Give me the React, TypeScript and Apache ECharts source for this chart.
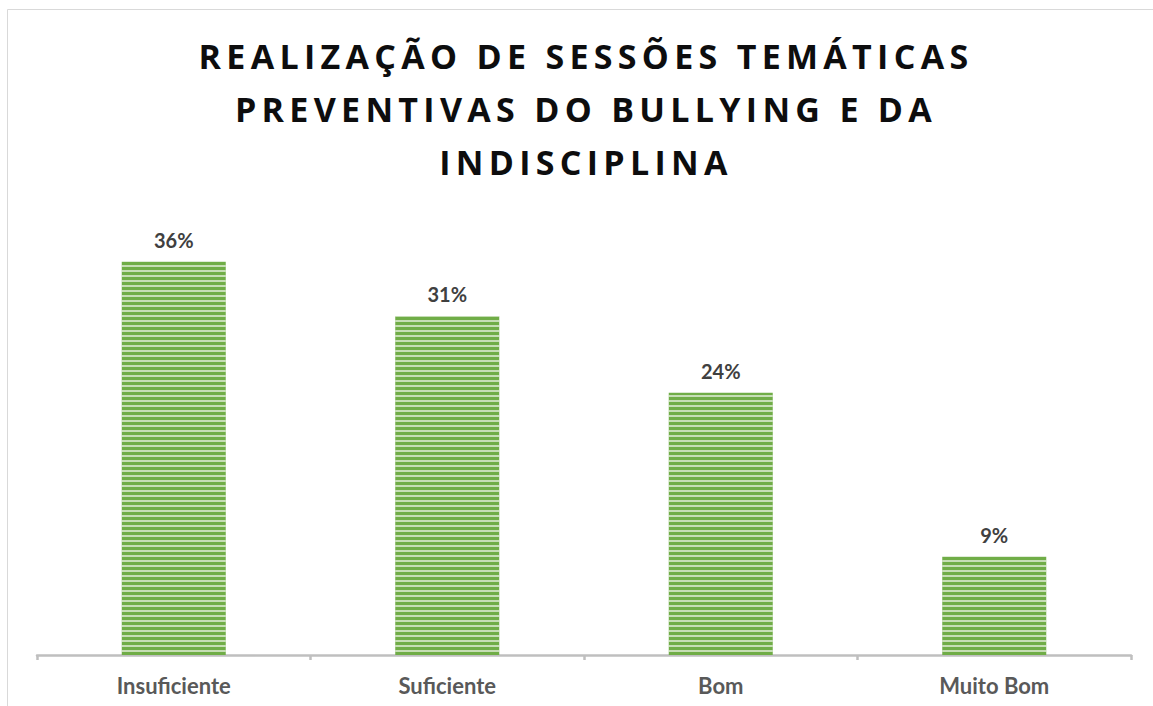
import React, { useEffect, useRef } from "react";
import * as echarts from "echarts";

const titleLines = [
  "REALIZAÇÃO DE SESSÕES TEMÁTICAS",
  "PREVENTIVAS DO BULLYING E DA",
  "INDISCIPLINA",
];
const categories = ["Insuficiente", "Suficiente", "Bom", "Muito Bom"];
const values = [36, 31, 24, 9];

export default function App() {
  const ref = useRef<HTMLDivElement>(null);
  useEffect(() => {
    if (!ref.current) return;
    const chart = echarts.init(ref.current, null, { renderer: "svg" });
    chart.setOption({
      animation: false,
      backgroundColor: "#ffffff",
      graphic: [
        {
          type: "rect",
          shape: { x: 7.5, y: 9.5, width: 1300, height: 900 },
          style: { fill: "none", stroke: "#d9d9d9", lineWidth: 1 },
          silent: true,
        },
        {
          type: "text",
          x: 586,
          y: 29,
          style: {
            text: titleLines.join("\n"),
            fill: "#0d0d0e",
            font: 'bold 34px "Open Sans"',
            lineHeight: 53,
            textAlign: "center",
            textVerticalAlign: "top",
          },
        },
      ],
      grid: { left: 37, right: 22, top: 218, bottom: 51 },
      xAxis: {
        type: "category",
        data: categories,
        axisLine: { lineStyle: { color: "#bfbfbf", width: 2.5 } },
        axisTick: { show: true, length: 5, lineStyle: { color: "#bfbfbf", width: 2.5 } },
        axisLabel: {
          color: "#595959",
          fontFamily: "Lato",
          fontWeight: "bold",
          fontSize: 22,
          margin: 19,
        },
      },
      yAxis: { type: "value", min: 0, max: 40, show: false },
      series: [
        {
          type: "bar",
          data: values,
          barWidth: 104,
          itemStyle: {
            color: "#70AD47",
            decal: {
              symbol: "rect",
              symbolSize: 1,
              dashArrayX: [1, 0],
              dashArrayY: [2, 3],
              color: "rgba(255,255,255,0.6)",
              rotation: 0,
            },
          },
          label: {
            show: true,
            position: "top",
            distance: 12,
            formatter: "{c}%",
            color: "#404040",
            fontFamily: "Lato",
            fontWeight: "bold",
            fontSize: 20,
          },
        },
      ],
    });
    return () => chart.dispose();
  }, []);
  return (
    <div style={{ position: "absolute", left: 0, top: 0, width: 1153, height: 706, overflow: "hidden" }}>
      <style>{`text[fill="#0d0d0e"]{letter-spacing:5.3px;}`}</style>
      <div ref={ref} style={{ width: 1153, height: 706 }} />
    </div>
  );
}
